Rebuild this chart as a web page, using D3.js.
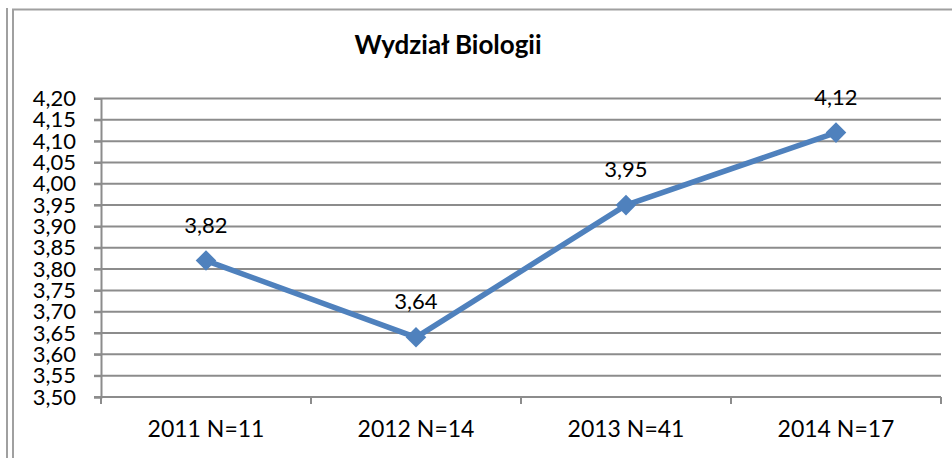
<!DOCTYPE html>
<html>
<head>
<meta charset="utf-8">
<script src="https://cdn.jsdelivr.net/npm/d3@7"></script>
<style>
  body { margin: 0; background: #fff; }
  svg text { font-family: Lato, "Liberation Sans", sans-serif; fill: #000; }
</style>
</head>
<body>
<div id="chart"></div>
<script>
var title = "Wydział Biologii";
var categories = ["2011 N=11", "2012 N=14", "2013 N=41", "2014 N=17"];
var values = [3.82, 3.64, 3.95, 4.12];
var yTicks = [3.50, 3.55, 3.60, 3.65, 3.70, 3.75, 3.80, 3.85, 3.90, 3.95, 4.00, 4.05, 4.10, 4.15, 4.20];

var W = 952, H = 458;
var pLeft = 101, pRight = 941, pTop = 98.5, pBottom = 397;
var grey = "#8c8c8c", blue = "#4f81bd";
var fmt = function(v){ return d3.format(".2f")(v).replace(".", ","); };

var svg = d3.select("#chart").append("svg").attr("width", W).attr("height", H);

// frame
svg.append("line").attr("x1", 7).attr("y1", 8).attr("x2", 7).attr("y2", H)
  .attr("stroke", "#a0a0a0").attr("stroke-width", 2);
svg.append("path").attr("d", "M13," + H + "V9.5H" + W)
  .attr("fill", "none").attr("stroke", "#a0a0a0").attr("stroke-width", 2);

var x = d3.scaleBand().domain(categories).range([pLeft, pRight]).padding(0);
var y = d3.scaleLinear().domain([3.5, 4.2]).range([pBottom, pTop]);

// gridlines
svg.append("g").selectAll("line").data(yTicks).join("line")
  .attr("x1", pLeft - 7).attr("x2", pRight)
  .attr("y1", function(d){ return y(d); }).attr("y2", function(d){ return y(d); })
  .attr("stroke", grey).attr("stroke-width", 2);

// y axis
var yAxis = svg.append("g").attr("transform", "translate(" + pLeft + ",0)")
  .call(d3.axisLeft(y).tickValues(yTicks).tickFormat(fmt).tickSize(7).tickPadding(18));
yAxis.select(".domain").attr("stroke", grey).attr("stroke-width", 2);
yAxis.selectAll(".tick line").attr("stroke", grey).attr("stroke-width", 2);
yAxis.selectAll("text").attr("font-size", 22).attr("font-family", "Lato").attr("fill", "#000");

// x axis
var xAxis = svg.append("g").attr("transform", "translate(0," + pBottom + ")")
  .call(d3.axisBottom(x).tickSize(0).tickPadding(24));
xAxis.select(".domain").attr("stroke", grey).attr("stroke-width", 2)
  .attr("d", "M" + pLeft + ",0H" + pRight);
xAxis.selectAll("text").attr("font-size", 23).attr("font-family", "Lato").attr("fill", "#000");
var bounds = categories.map(function(c){ return x(c); }).concat([pRight]);
xAxis.selectAll(".bt").data(bounds).join("line").attr("class", "bt")
  .attr("x1", function(d){ return d; }).attr("x2", function(d){ return d; })
  .attr("y1", 0).attr("y2", 7).attr("stroke", grey).attr("stroke-width", 2);

// line
var cx = function(d, i){ return x(categories[i]) + x.bandwidth() / 2; };
svg.append("path").datum(values)
  .attr("fill", "none").attr("stroke", blue).attr("stroke-width", 5.5)
  .attr("stroke-linejoin", "round")
  .attr("d", d3.line().x(cx).y(function(d){ return y(d); }));

// markers
svg.append("g").selectAll("path").data(values).join("path")
  .attr("d", d3.symbol(d3.symbolDiamond2, 270))
  .attr("transform", function(d, i){ return "translate(" + cx(d, i) + "," + y(d) + ")"; })
  .attr("fill", blue);

// data labels
svg.append("g").selectAll("text").data(values).join("text")
  .attr("x", cx).attr("y", function(d){ return y(d) - 28; })
  .attr("text-anchor", "middle").attr("font-size", 22)
  .text(fmt);

// title
svg.append("text").attr("x", 448).attr("y", 54).attr("text-anchor", "middle")
  .attr("font-size", 26).attr("font-weight", "bold").text(title);
</script>
</body>
</html>
